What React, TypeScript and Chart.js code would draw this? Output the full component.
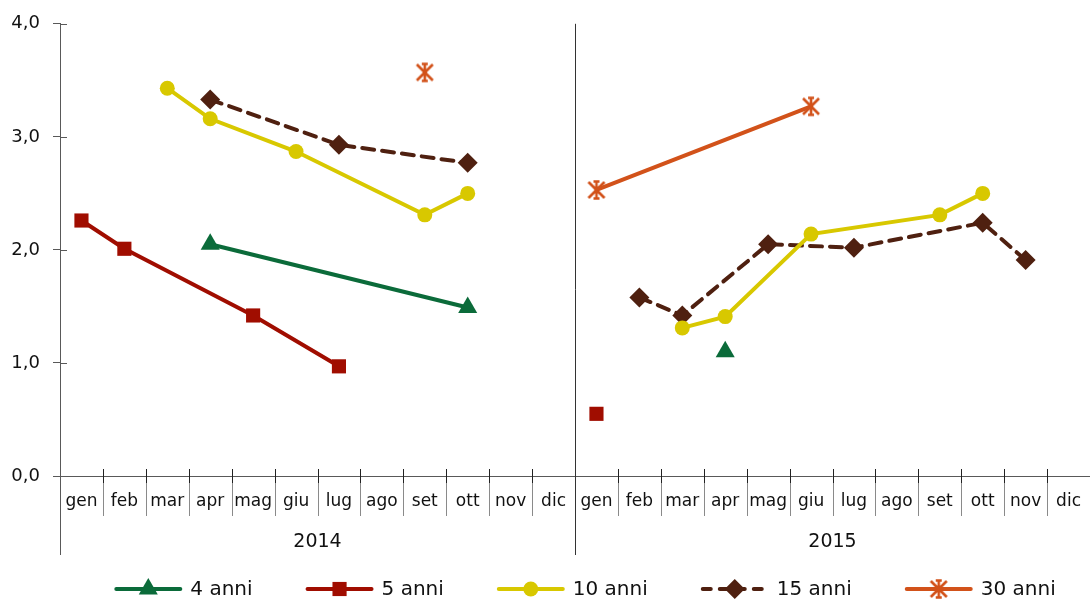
import React, { useEffect, useRef } from 'react';
import { Chart, registerables } from 'chart.js';

Chart.register(...registerables);

const months = ['gen', 'feb', 'mar', 'apr', 'mag', 'giu', 'lug', 'ago', 'set', 'ott', 'nov', 'dic'];
const years = ['2014', '2015'];
const yTicks = [0, 1, 2, 3, 4];
const seriesNames = ['4 anni', '5 anni', '10 anni', '15 anni', '30 anni'];

const _ = null;
const anni4_2014 = [_, _, _, 2.05, _, _, _, _, _, 1.49, _, _];
const anni4_2015 = [_, _, _, 1.10, _, _, _, _, _, _, _, _];
const anni5_2014 = [2.26, 2.01, _, _, 1.42, _, 0.97, _, _, _, _, _];
const anni5_2015 = [0.55, _, _, _, _, _, _, _, _, _, _, _];
const anni10_2014 = [_, _, 3.43, 3.16, _, 2.87, _, _, 2.31, 2.50, _, _];
const anni10_2015 = [_, _, 1.31, 1.41, _, 2.14, _, _, 2.31, 2.50, _, _];
const anni15_2014 = [_, _, _, 3.33, _, _, 2.93, _, _, 2.77, _, _];
const anni15_2015 = [_, 1.58, 1.42, _, 2.05, _, 2.02, _, _, 2.24, 1.91, _];
const anni30_2014 = [_, _, _, _, _, _, _, _, 3.57, _, _, _];
const anni30_2015 = [2.53, _, _, _, _, 3.27, _, _, _, _, _, _];

const FONT = 'DejaVu Sans';
const TEXT = '#111111';
const AXIS = '#595959';

type Style = {
  color: string;
  point: string;
  radius: number;
  dash: number[];
};

const styles: Style[] = [
  { color: '#0B6B3A', point: 'triangle', radius: 11, dash: [] },
  { color: '#A00D00', point: 'rect', radius: 10, dash: [] },
  { color: '#D8C800', point: 'circle', radius: 7.5, dash: [] },
  { color: '#4F2010', point: 'rectRot', radius: 10, dash: [12, 8] },
  { color: '#D2521A', point: 'star', radius: 10, dash: [] },
];

const seriesData = [
  [anni4_2014, anni4_2015],
  [anni5_2014, anni5_2015],
  [anni10_2014, anni10_2015],
  [anni15_2014, anni15_2015],
  [anni30_2014, anni30_2015],
];

function makeStar(color: string): HTMLCanvasElement {
  const c = document.createElement('canvas');
  c.width = 24;
  c.height = 24;
  const g = c.getContext('2d')!;
  g.strokeStyle = color;
  g.lineWidth = 2.6;
  g.lineCap = 'butt';
  const m = 12;
  g.beginPath();
  g.moveTo(m - 8, m - 8); g.lineTo(m + 8, m + 8);
  g.moveTo(m - 8, m + 8); g.lineTo(m + 8, m - 8);
  g.moveTo(m, m - 9.5); g.lineTo(m, m + 9.5);
  g.moveTo(m - 3, m - 8.5); g.lineTo(m + 3, m - 8.5);
  g.moveTo(m - 3, m + 8.5); g.lineTo(m + 3, m + 8.5);
  g.stroke();
  return c;
}

function drawMarker(ctx: CanvasRenderingContext2D, s: Style, x: number, y: number, star: HTMLCanvasElement) {
  ctx.save();
  ctx.fillStyle = s.color;
  ctx.setLineDash([]);
  const r = s.radius;
  ctx.beginPath();
  if (s.point === 'circle') {
    ctx.arc(x, y, r, 0, Math.PI * 2);
    ctx.fill();
  } else if (s.point === 'rect') {
    const h = r * Math.SQRT1_2;
    ctx.fillRect(x - h, y - h, 2 * h, 2 * h);
  } else if (s.point === 'triangle') {
    ctx.moveTo(x, y - r);
    ctx.lineTo(x + r * 0.866, y + r * 0.5);
    ctx.lineTo(x - r * 0.866, y + r * 0.5);
    ctx.closePath();
    ctx.fill();
  } else if (s.point === 'rectRot') {
    ctx.moveTo(x, y - r);
    ctx.lineTo(x + r, y);
    ctx.lineTo(x, y + r);
    ctx.lineTo(x - r, y);
    ctx.closePath();
    ctx.fill();
  } else {
    ctx.drawImage(star, x - star.width / 2, y - star.height / 2);
  }
  ctx.restore();
}

export default function App() {
  const ref = useRef<HTMLCanvasElement>(null);

  useEffect(() => {
    if (!ref.current) return;
    const star = makeStar(styles[4].color);
    const labels = [...months, ...months];
    const empty = months.map(() => null);

    const datasets: any[] = [];
    seriesData.forEach((pair, si) => {
      const s = styles[si];
      pair.forEach((vals, yi) => {
        const data = yi === 0 ? [...vals, ...empty] : [...empty, ...vals];
        datasets.push({
          label: seriesNames[si],
          data,
          borderColor: s.color,
          backgroundColor: s.color,
          borderWidth: 4,
          borderDash: s.dash,
          borderCapStyle: 'round',
          pointStyle: s.point === 'star' ? star : s.point,
          pointRadius: s.radius,
          pointHoverRadius: s.radius,
          pointBorderWidth: 0,
          pointBackgroundColor: s.color,
          spanGaps: true,
          tension: 0,
          clip: false,
        });
      });
    });

    const decor = {
      id: 'decor',
      afterDraw(chart: any) {
        const { ctx, chartArea: a, scales } = chart;
        const xs = scales.x;
        const ys = scales.y;
        const step = xs.getPixelForValue(1) - xs.getPixelForValue(0);
        const b = Math.round(a.bottom) + 0.5;
        const lx = Math.round(a.left) + 0.5;
        const ext = a.bottom + 79;
        const ln = (x1: number, y1: number, x2: number, y2: number, c: string) => {
          ctx.strokeStyle = c;
          ctx.beginPath();
          ctx.moveTo(x1, y1);
          ctx.lineTo(x2, y2);
          ctx.stroke();
        };
        ctx.save();
        ctx.lineWidth = 1;
        ctx.setLineDash([]);
        ln(a.left, b, a.right, b, AXIS);
        ln(lx, a.bottom, lx, ext, AXIS);
        yTicks.forEach((v) => {
          const py = Math.round(ys.getPixelForValue(v)) + 0.5;
          ln(a.left, py, a.left + 7, py, AXIS);
        });
        for (let k = 1; k < 24; k++) {
          const px = Math.round(xs.getPixelForValue(k) - step / 2) + 0.5;
          if (k === 12) {
            ln(px, a.top, px, ext, '#333333');
          } else {
            ln(px, a.bottom - 7, px, a.bottom + 7, '#222222');
            ln(px, a.bottom + 7, px, a.bottom + 40, '#8a8a8a');
          }
        }
        ctx.fillStyle = TEXT;
        ctx.textAlign = 'center';
        ctx.textBaseline = 'middle';
        ctx.font = `17px "${FONT}"`;
        labels.forEach((m, i) => {
          ctx.fillText(m, xs.getPixelForValue(i), a.bottom + 26);
        });
        ctx.font = `19px "${FONT}"`;
        years.forEach((yr, yi) => {
          const x0 = xs.getPixelForValue(yi * 12) - step / 2;
          const x1 = xs.getPixelForValue(yi * 12 + 11) + step / 2;
          ctx.fillText(yr, (x0 + x1) / 2, a.bottom + 66);
        });

        // legend
        const lineLen = 68;
        const gap = 8;
        const spacing = 53;
        ctx.font = `20px "${FONT}"`;
        const widths = seriesNames.map((n) => ctx.measureText(n).width);
        const total = widths.reduce((p, w) => p + lineLen + gap + w, 0) + spacing * (seriesNames.length - 1);
        let x = (a.left + a.right) / 2 + 10 - total / 2;
        const ly = 589;
        seriesNames.forEach((n, i) => {
          const s = styles[i];
          ctx.save();
          ctx.strokeStyle = s.color;
          ctx.lineWidth = 4;
          ctx.lineCap = 'round';
          ctx.setLineDash(s.dash.length ? [8, 9] : []);
          ctx.beginPath();
          ctx.moveTo(x + 2, ly);
          ctx.lineTo(x + lineLen - 2, ly);
          ctx.stroke();
          ctx.restore();
          drawMarker(ctx, s, x + lineLen / 2, ly, star);
          ctx.fillStyle = TEXT;
          ctx.textAlign = 'left';
          ctx.textBaseline = 'middle';
          ctx.fillText(n, x + lineLen + gap, ly + 1);
          x += lineLen + gap + widths[i] + spacing;
        });
        ctx.restore();
      },
    };

    const chart = new Chart(ref.current, {
      type: 'line',
      data: { labels, datasets },
      options: {
        animation: false,
        responsive: false,
        events: [],
        layout: { autoPadding: false, padding: { top: 22, right: 0, bottom: 125, left: 0 } },
        plugins: { legend: { display: false }, tooltip: { enabled: false } },
        scales: {
          x: { type: 'category', offset: true, display: false },
          y: {
            min: 0,
            max: 4,
            afterFit: (s: any) => { s.width = 60; },
            ticks: {
              stepSize: 1,
              padding: 13,
              color: TEXT,
              font: { family: FONT, size: 18 },
              callback: (v: any) => Number(v).toFixed(1).replace('.', ','),
            },
            grid: { display: true, drawOnChartArea: false, drawTicks: true, tickLength: 7, color: AXIS },
            border: { display: true, color: AXIS, width: 1 },
          },
        },
      },
      plugins: [decor],
    } as any);

    return () => chart.destroy();
  }, []);

  return (
    <div style={{ position: 'absolute', left: 0, top: 0, width: 1090, height: 601, background: '#fff' }}>
      <canvas ref={ref} width={1090} height={601} />
    </div>
  );
}
